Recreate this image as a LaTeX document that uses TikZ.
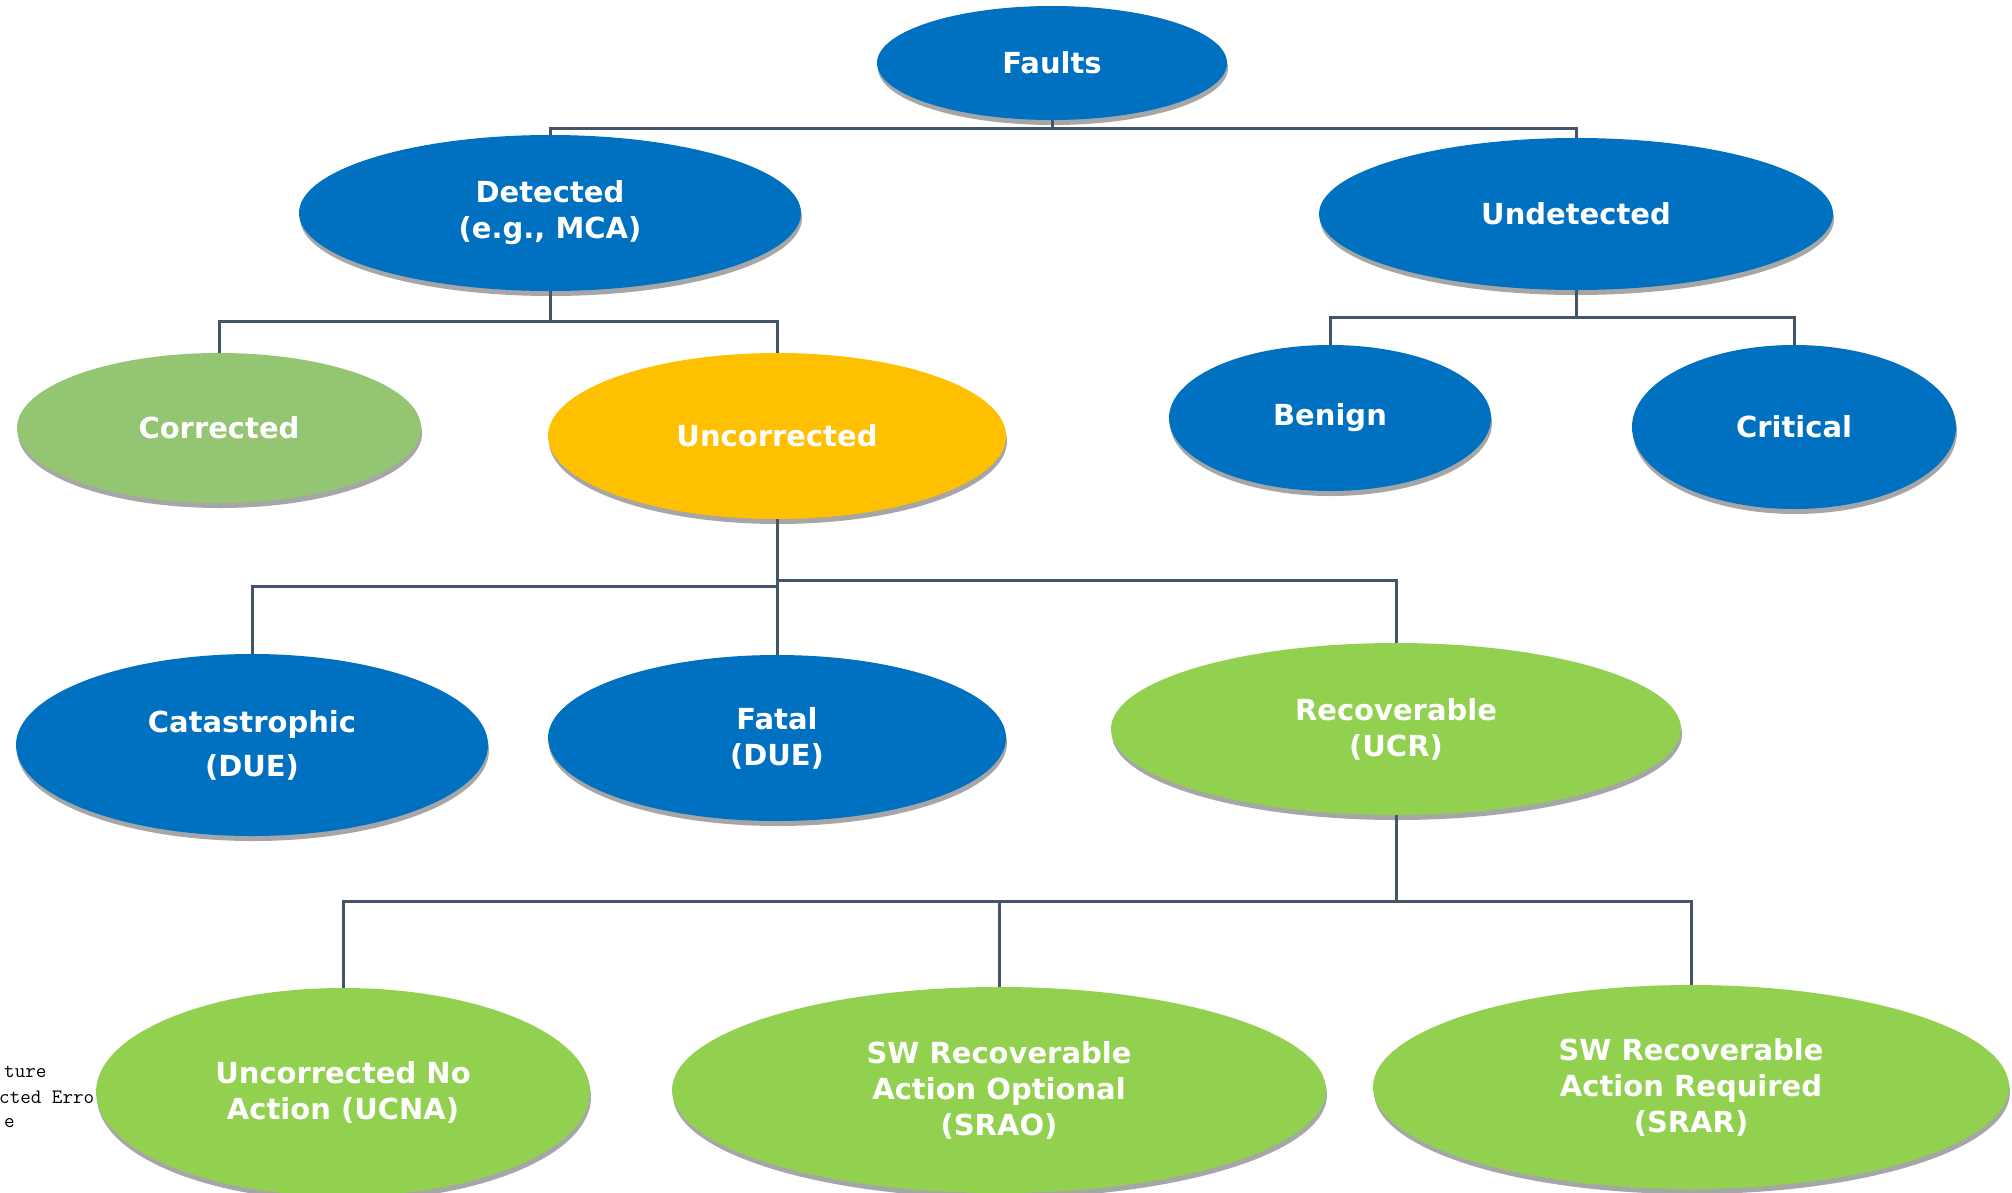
\documentclass[tikz,border=0pt]{standalone}
\usepackage{fontspec}
\setmainfont{DejaVu Sans}
\usetikzlibrary{shapes.geometric,shadows}
\definecolor{fblue}{HTML}{0070C0}
\definecolor{fgreenA}{HTML}{93C572}
\definecolor{fyellow}{HTML}{FFC000}
\definecolor{fgreen}{HTML}{92D050}
\definecolor{fline}{HTML}{44546A}
\tikzset{
  ell/.style={ellipse, inner sep=0pt, text=white, align=center,
    font=\fontsize{29}{36}\selectfont\bfseries,
    drop shadow={shadow xshift=1pt, shadow yshift=-5pt, fill=black, opacity=0.35}},
  conn/.style={draw=fline, line width=3pt},
  sidetext/.style={anchor=base west, inner sep=0pt, font=\ttfamily\fontsize{20.5}{22}\selectfont},
}
\begin{document}
\begin{tikzpicture}[x=1pt,y=-1pt]
\useasboundingbox (0,0) rectangle (2012,1192);
\fill[white] (0,0) rectangle (2012,1192);
% cropped side text
\node[sidetext] (t1) at (4,1077) {ture};
\node[sidetext] (t2) at (-1,1103) {cted Erro};
\node[sidetext] (t3) at (4,1127) {e};
% nodes
\node[ell, fill=fblue, minimum width=350, minimum height=114] (faults) at (1052,63) {Faults};
\node[ell, fill=fblue, minimum width=502, minimum height=156] (detected) at (550,213) {Detected\\(e.g., MCA)};
\node[ell, fill=fblue, minimum width=514, minimum height=152] (undetected) at (1576,214) {Undetected};
\node[ell, fill=fgreenA, minimum width=404, minimum height=150] (corrected) at (219,428) {Corrected};
\node[ell, fill=fyellow, minimum width=458, minimum height=166] (uncorrected) at (777,436) {Uncorrected};
\node[ell, fill=fblue, minimum width=322, minimum height=146] (benign) at (1330,418) {Benign};
\node[ell, fill=fblue, minimum width=324, minimum height=164] (critical) at (1794,427) {Critical};
\node[ell, fill=fblue, minimum width=472, minimum height=182] (catastrophic) at (252,745) {Catastrophic\\[8pt](DUE)};
\node[ell, fill=fblue, minimum width=458, minimum height=166] (fatal) at (777,738) {Fatal\\(DUE)};
\node[ell, fill=fgreen, minimum width=570, minimum height=172] (recoverable) at (1396,729) {Recoverable\\(UCR)};
\node[ell, fill=fgreen, minimum width=494, minimum height=208] (ucna) at (343,1092) {Uncorrected No\\Action (UCNA)};
\node[ell, fill=fgreen, minimum width=654, minimum height=206] (srao) at (999,1090) {SW Recoverable\\Action Optional\\(SRAO)};
\node[ell, fill=fgreen, minimum width=636, minimum height=204] (srar) at (1691,1087) {SW Recoverable\\Action Required\\(SRAR)};
% bar levels
\coordinate (b1) at (0,128);
\coordinate (b2) at (0,321);
\coordinate (b3) at (0,317);
\coordinate (b4r) at (0,580);
\coordinate (b4l) at (0,586);
\coordinate (b5) at (0,901);
% connectors
\draw[conn] (faults.south) -- (faults.south |- b1) -| (detected.north);
\draw[conn] (faults.south |- b1) -| (undetected.north);
\draw[conn] (detected.south) -- (detected.south |- b2) -| (corrected.north);
\draw[conn] (detected.south |- b2) -| (uncorrected.north);
\draw[conn] (undetected.south) -- (undetected.south |- b3) -| (benign.north);
\draw[conn] (undetected.south |- b3) -| (critical.north);
\draw[conn] (uncorrected.south) -- (fatal.north);
\draw[conn] (uncorrected.south |- b4r) -| (recoverable.north);
\draw[conn] (uncorrected.south |- b4l) -| (catastrophic.north);
\draw[conn] (recoverable.south) -- (recoverable.south |- b5) -| (ucna.north);
\draw[conn] (srao.north) -- (srao.north |- b5);
\draw[conn] (recoverable.south |- b5) -| (srar.north);
\end{tikzpicture}
\end{document}
